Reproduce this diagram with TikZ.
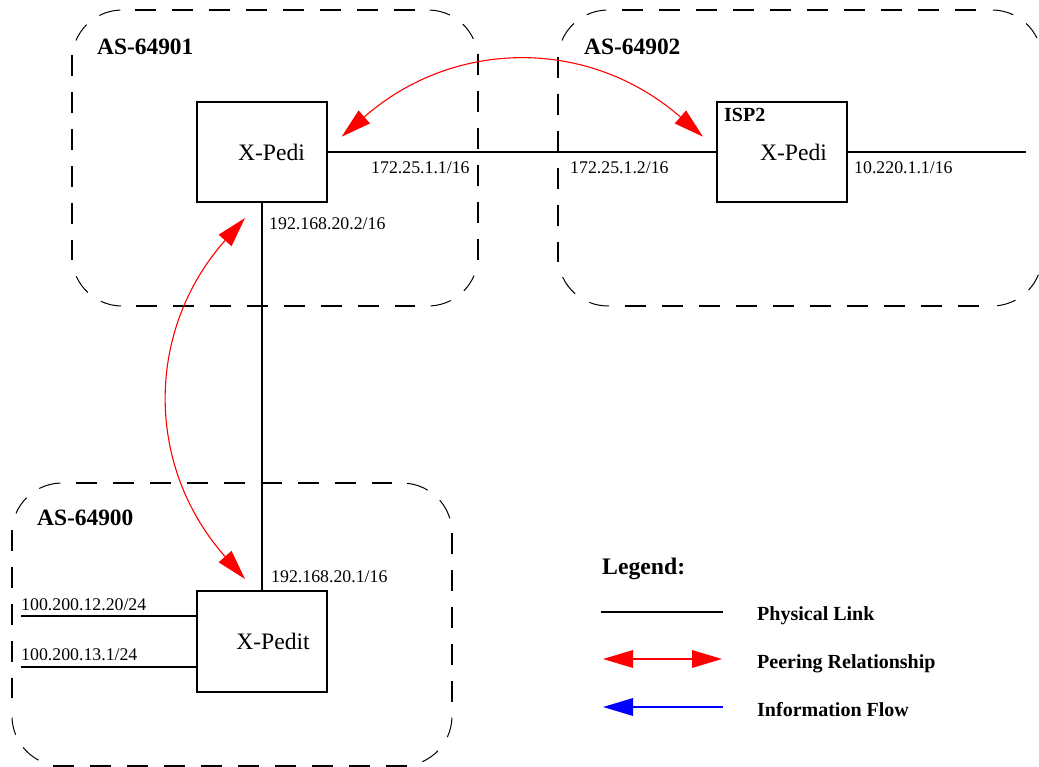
\documentclass[tikz,border=0pt]{standalone}
\usepackage{fontspec}
\setmainfont{Liberation Serif}
\usetikzlibrary{arrows.meta}
\tikzset{
  side/.style={line width=1.7pt,dash pattern=on 21pt off 16pt},
  corner/.style={line width=1pt},
  routerbox/.style={draw,line width=1.7pt,minimum width=130pt,minimum height=100pt,inner sep=0pt,font=\fontsize{23.6}{26}\selectfont},
  link/.style={line width=1.7pt},
  addr/.style={anchor=base west,inner sep=0pt,font=\fontsize{17.8}{20}\selectfont},
  asname/.style={anchor=base west,inner sep=0pt,font=\fontsize{23.4}{26}\selectfont\bfseries},
  legitem/.style={anchor=base west,inner sep=0pt,font=\fontsize{20}{23}\selectfont\bfseries},
  peer/.style={red,line width=1.1pt,{Triangle[length=30pt,width=17pt]}-{Triangle[length=30pt,width=17pt]}},
  legpeer/.style={red,line width=1.7pt,{Triangle[length=30pt,width=17.5pt]}-{Triangle[length=30pt,width=17.5pt]}},
  legflow/.style={blue,line width=1.7pt,{Triangle[length=30pt,width=17.5pt]}-},
}
% centre x, centre y, start angle, end angle: one thin dash of a rounded corner
\newcommand{\cdash}[4]{\draw[corner] ({#1+50*cos(#3)},{#2-50*sin(#3)}) arc[start angle=#3,end angle=#4,radius=50pt];}
\begin{document}
\begin{tikzpicture}[x=1pt,y=-1pt]
\useasboundingbox (0,0) rectangle (1039,767);
\begin{scope}
\clip (0,0) rectangle (1039,767);
% AS-64901
\draw[side] (135,10) -- (415,10);
\draw[side] (136,306) -- (415,306);
\draw[side] (72,55) -- (72,260);
\draw[side] (478,54) -- (478,260);
\cdash{122}{60}{92}{117}\cdash{122}{60}{135}{157}
\cdash{428}{60}{88}{64}\cdash{428}{60}{46}{25}
\cdash{122}{256}{204}{227}\cdash{122}{256}{245}{269}
\cdash{428}{256}{273}{297}\cdash{428}{256}{316}{337}
% AS-64902
\draw[side] (622,10) -- (978,10);
\draw[side] (625,306) -- (981,306);
\draw[side] (558,57) -- (558,262);
\cdash{608}{60}{92}{115}\cdash{608}{60}{133}{157}
\cdash{608}{256}{205}{229}\cdash{608}{256}{248}{271}
\cdash{992}{60}{89}{65}\cdash{992}{60}{47}{26}
\cdash{992}{256}{276}{298}\cdash{992}{256}{317}{338}
% AS-64900
\draw[side] (76,483) -- (392,483);
\draw[side] (53,766) -- (407,766);
\draw[side] (12,530) -- (12,698);
\draw[side] (452,533) -- (452,702);
\cdash{62}{533}{92}{117}\cdash{62}{533}{135}{157}
\cdash{402}{533}{84}{59}\cdash{402}{533}{41}{17}
\cdash{62}{716}{182}{202}\cdash{62}{716}{219}{242}
\cdash{402}{716}{294}{316}\cdash{402}{716}{335}{358}
\end{scope}
\node[routerbox] (r1) at (262,152) {\hspace*{19pt}X-Pedi};
\node[routerbox] (r2) at (782,152) {\hspace*{23pt}X-Pedi};
\node[routerbox,minimum height=101pt] (r3) at (262,641.5) {\hspace*{22pt}X-Pedit};
\coordinate (e2) at (1026,152);
\coordinate (l1) at (21,616);
\coordinate (l2) at (21,667);
\draw[link] (r1.east) -- (r2.west);
\draw[link] (r2.east) -- (e2);
\draw[link] (r1.south) -- (r3.north);
\draw[link] (l1) -- (l1-|r3.west);
\draw[link] (l2) -- (l2-|r3.west);
\coordinate (pa) at (341.7,136.7);
\coordinate (pb) at (703,136.7);
\coordinate (pc) at (245,218);
\coordinate (pd) at (245,579);
\draw[peer] (pa) .. controls (454.6,37.8) and (589.7,37.8) .. (pb);
\draw[peer] (pc) .. controls (145.1,330.6) and (145.1,466.4) .. (pd);
\node[asname] (n1) at (97,55) {AS-64901};
\node[asname] (n2) at (584,55) {AS-64902};
\node[asname] (n3) at (37,525) {AS-64900};
\node[legitem] (n4) at (724,122) {ISP2};
\node[addr] (a1) at (371,174) {172.25.1.1/16};
\node[addr] (a2) at (570,174) {172.25.1.2/16};
\node[addr] (a3) at (854,174) {10.220.1.1/16};
\node[addr] (a4) at (269,230) {192.168.20.2/16};
\node[addr] (a5) at (271,582) {192.168.20.1/16};
\node[addr] (a6) at (21,610) {100.200.12.20/24};
\node[addr] (a7) at (21,660) {100.200.13.1/24};
\node[asname,font=\fontsize{23.7}{26}\selectfont\bfseries] (lg) at (602,574) {Legend:};
\coordinate (k1a) at (601,612);\coordinate (k1b) at (723,612);
\coordinate (k2a) at (603,659);\coordinate (k2b) at (722,659);
\coordinate (k3a) at (603,707);\coordinate (k3b) at (723,707);
\draw[link] (k1a) -- (k1b);
\draw[legpeer] (k2a) -- (k2b);
\draw[legflow] (k3a) -- (k3b);
\node[legitem] (t1) at (757,620) {Physical Link};
\node[legitem] (t2) at (757,668) {Peering Relationship};
\node[legitem] (t3) at (757,716) {Information Flow};
\end{tikzpicture}
\end{document}
